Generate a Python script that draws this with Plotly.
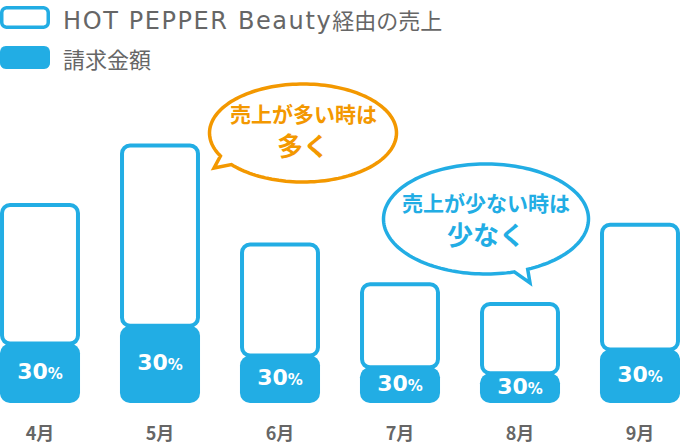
import numpy as np
import plotly.graph_objects as go

# data
months = ["4月", "5月", "6月", "7月", "8月", "9月"]
sales = [10, 13, 8, 6, 5, 9]                  # HOT PEPPER Beauty経由の売上 (relative)
billing_rate = [0.3, 0.3, 0.3, 0.3, 0.3, 0.3]  # 請求金額 = 売上の30%

legend_names = [
    "<span style='font-family:DejaVu Sans;font-size:24px;letter-spacing:1.6px'>HOT PEPPER Beauty</span>経由の売上",
    "請求金額",
]
bubble_high = ["売上が多い時は", "多く"]
bubble_low = ["売上が少ない時は", "少なく"]

BLUE = "#22ade4"
ORANGE = "#f39800"
GRAY = "#666666"
JP = "Noto Sans CJK JP, sans-serif"
NUM = "DejaVu Sans, Noto Sans CJK JP, sans-serif"

W, H = 680, 448
BOTTOM = 403        # pixel row of the bar baseline
UNIT = 19.8         # pixels per sales unit

billing = [s * r for s, r in zip(sales, billing_rate)]
rest = [s - b for s, b in zip(sales, billing)]
xs = list(range(len(months)))


def paper(px, py):
    # pixel position -> paper coordinates (plot area covers the top 403 px)
    return px / W, (BOTTOM - py) / BOTTOM


def path_from(points):
    pts = [paper(x, y) for x, y in points]
    return "M " + " L ".join(f"{x:.5f},{y:.5f}" for x, y in pts) + " Z"


def round_rect(x0, y0, x1, y1, r, n=8):
    pts = []
    corners = [(x1 - r, y0 + r, -90), (x1 - r, y1 - r, 0), (x0 + r, y1 - r, 90), (x0 + r, y0 + r, 180)]
    for cx, cy, start in corners:
        for a in np.linspace(start, start + 90, n):
            t = np.radians(a)
            pts.append((cx + r * np.cos(t), cy + r * np.sin(t)))
    return path_from(pts)


def bubble(cx, cy, rx, ry, a_start, a_end, tip, n=160):
    # ellipse going round from a_end to a_start (degrees, y down), then out to the tail tip
    angles = np.linspace(a_end, a_start + 360, n)
    pts = [(cx + rx * np.cos(np.radians(a)), cy + ry * np.sin(np.radians(a))) for a in angles]
    pts.append(tip)
    return path_from(pts)


fig = go.Figure()

# white part of the sales bar (rounded top)
fig.add_trace(go.Bar(
    x=xs, y=rest, base=billing, width=0.633,
    marker=dict(color="white", line=dict(color=BLUE, width=4), cornerradius=8),
    hoverinfo="skip",
))
# billing part, drawn downward so that the bottom corners get rounded
fig.add_trace(go.Bar(
    x=xs, y=[-b for b in billing], base=billing, width=0.667,
    marker=dict(color=BLUE, line=dict(width=0), cornerradius=10),
    hoverinfo="skip",
))
# percent labels
fig.add_trace(go.Scatter(
    x=xs, y=[b / 2 for b in billing], mode="text",
    text=[f"<b>{r * 100:.0f}<span style='font-size:15px'>%</span></b>" for r in billing_rate],
    textfont=dict(color="white", size=22, family=NUM),
    hoverinfo="skip",
))

shapes = []
# custom legend icons
shapes.append(dict(type="path", xref="paper", yref="paper",
                   path=round_rect(1.75, 7.75, 48.25, 27.25, 5),
                   fillcolor="white", line=dict(color=BLUE, width=3.5)))
shapes.append(dict(type="path", xref="paper", yref="paper",
                   path=round_rect(0, 46, 50, 69, 6),
                   fillcolor=BLUE, line=dict(width=0)))
# speech bubbles
shapes.append(dict(type="path", xref="paper", yref="paper",
                   path=bubble(303, 133, 93.5, 49, 140, 152, (214, 168)),
                   fillcolor="white", line=dict(color=ORANGE, width=3.5)))
shapes.append(dict(type="path", xref="paper", yref="paper",
                   path=bubble(486, 219, 102.5, 55, 66, 74, (530, 283)),
                   fillcolor="white", line=dict(color=BLUE, width=3.5)))

annotations = []
for name, py in zip(legend_names, [19, 58]):
    lx, ly = paper(61, py)
    annotations.append(dict(x=lx, y=ly, xref="paper", yref="paper", text=name,
                            showarrow=False, xanchor="left", yanchor="middle",
                            font=dict(size=22, color=GRAY, family=JP)))

for (line1, line2), color, cx, y1, y2 in [
    (bubble_high, ORANGE, 303, 113, 144),
    (bubble_low, BLUE, 486, 202, 233),
]:
    ax, ay = paper(cx, y1)
    annotations.append(dict(x=ax, y=ay, xref="paper", yref="paper", text=f"<b>{line1}</b>",
                            showarrow=False, xanchor="center", yanchor="middle",
                            font=dict(size=21, color=color, family=JP)))
    ax, ay = paper(cx, y2)
    annotations.append(dict(x=ax, y=ay, xref="paper", yref="paper", text=f"<b>{line2}</b>",
                            showarrow=False, xanchor="center", yanchor="middle",
                            font=dict(size=26, color=color, family=JP)))

fig.update_layout(
    width=W, height=H,
    margin=dict(l=0, r=0, t=0, b=H - BOTTOM),
    paper_bgcolor="white", plot_bgcolor="white",
    barmode="overlay", showlegend=False,
    shapes=shapes, annotations=annotations,
    xaxis=dict(range=[-1 / 3, 16 / 3], tickvals=xs, ticktext=[f"<b>{m}</b>" for m in months],
               ticks="outside", ticklen=14, tickcolor="rgba(0,0,0,0)",
               tickfont=dict(size=18, color=GRAY, family=JP),
               showgrid=False, zeroline=False, showline=False, fixedrange=True, automargin=False),
    yaxis=dict(range=[0, BOTTOM / UNIT], visible=False, fixedrange=True),
)

fig.write_html("out.html", config={"displayModeBar": False},
               post_script="document.body.style.margin='0';")
